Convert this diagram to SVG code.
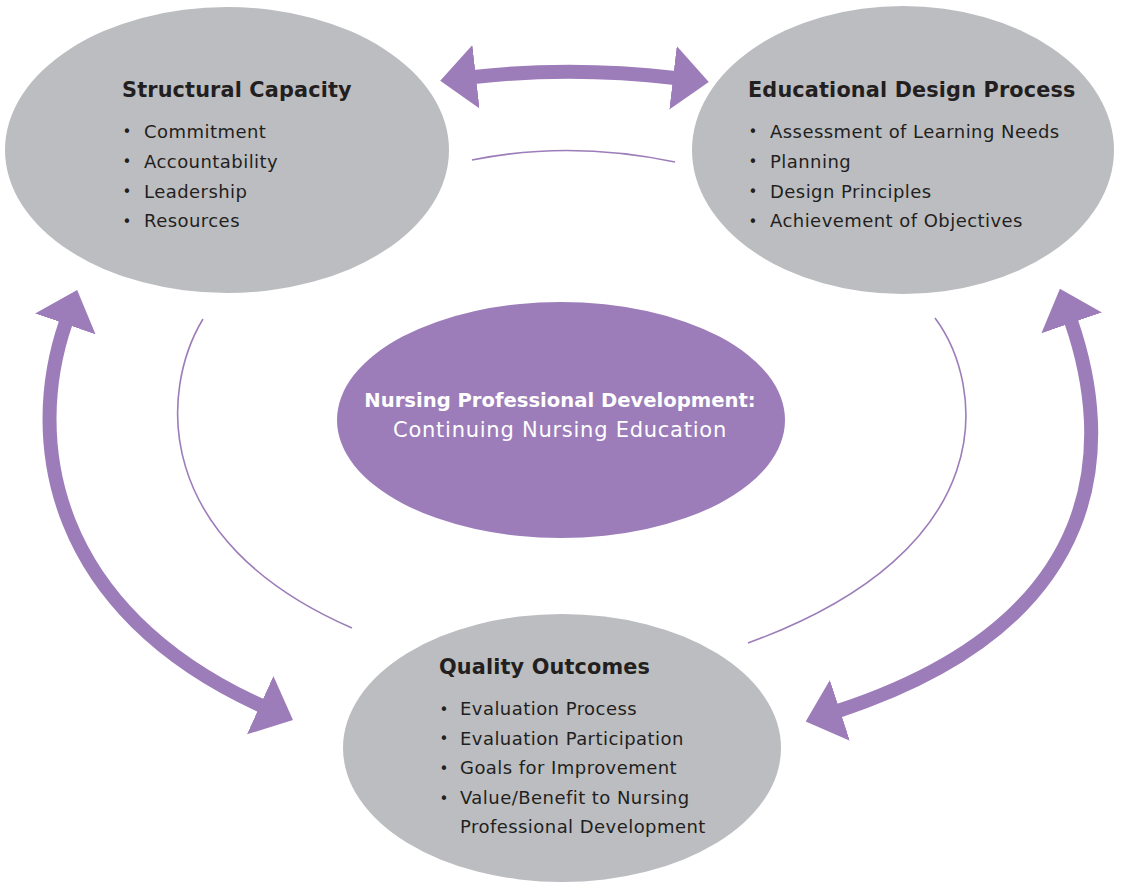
<svg xmlns="http://www.w3.org/2000/svg" width="1124" height="884" viewBox="0 0 1124 884">
<style>
.node{fill:#bcbdc0}
.core{fill:#9c7db9}
.title{font-family:"DejaVu Sans","Liberation Sans",sans-serif;font-weight:bold;font-size:20.8px;fill:#231f20;letter-spacing:0.15px}
.item{font-family:"DejaVu Sans","Liberation Sans",sans-serif;font-size:18px;fill:#231f20;letter-spacing:0.45px}
.dot{font-family:"DejaVu Sans","Liberation Sans",sans-serif;font-size:15px;fill:#231f20;text-anchor:middle}
.ct1{font-family:"DejaVu Sans","Liberation Sans",sans-serif;font-weight:bold;font-size:19.6px;fill:#ffffff;text-anchor:middle}
.ct2{font-family:"DejaVu Sans","Liberation Sans",sans-serif;font-size:21px;fill:#ffffff;text-anchor:middle;letter-spacing:0.75px}
.thick{fill:none;stroke:#9c7db9;stroke-width:14}
.thin{fill:none;stroke:#9c7db9;stroke-width:1.6}
</style>
<defs>
<marker id="ah" markerUnits="userSpaceOnUse" markerWidth="36" markerHeight="64" viewBox="0 0 36 64" refX="2" refY="32" orient="auto-start-reverse">
<path d="M0,0 L36,32 L0,64 z" fill="#9c7db9"/>
</marker>
</defs>
<rect width="1124" height="884" fill="#ffffff"/>
<g id="connectors">
<path class="thick" d="M474,77 Q572,66 675,78" marker-start="url(#ah)" marker-end="url(#ah)"/>
<path class="thick" d="M66,322 C25,440 50,610 262,706" marker-start="url(#ah)" marker-end="url(#ah)"/>
<path class="thick" d="M1071,321 C1112,440 1115,620 838,711" marker-start="url(#ah)" marker-end="url(#ah)"/>
<path class="thin" d="M472,160 Q570,140 675,162"/>
<path class="thin" d="M203,319 C160,390 150,540 352,628"/>
<path class="thin" d="M935,318 C985,385 1005,550 748,643"/>
</g>
<g id="structural-capacity">
<ellipse class="node" cx="227" cy="150" rx="222" ry="143"/>
<text class="title" x="122" y="97">Structural Capacity</text>
<text class="dot" x="127" y="137">•</text><text class="item" x="144" y="137.5">Commitment</text>
<text class="dot" x="127" y="167">•</text><text class="item" x="144" y="167.5">Accountability</text>
<text class="dot" x="127" y="197">•</text><text class="item" x="144" y="197.5">Leadership</text>
<text class="dot" x="127" y="227">•</text><text class="item" x="144" y="227">Resources</text>
</g>
<g id="educational-design-process">
<ellipse class="node" cx="903" cy="150" rx="211" ry="144"/>
<text class="title" x="748" y="97">Educational Design Process</text>
<text class="dot" x="753" y="137">•</text><text class="item" x="770" y="137.5">Assessment of Learning Needs</text>
<text class="dot" x="753" y="167">•</text><text class="item" x="770" y="167.5">Planning</text>
<text class="dot" x="753" y="197">•</text><text class="item" x="770" y="197.5">Design Principles</text>
<text class="dot" x="753" y="227">•</text><text class="item" x="770" y="227">Achievement of Objectives</text>
</g>
<g id="nursing-professional-development">
<ellipse class="core" cx="561" cy="420" rx="224" ry="118"/>
<text class="ct1" x="560" y="407">Nursing Professional Development:</text>
<text class="ct2" x="560" y="437">Continuing Nursing Education</text>
</g>
<g id="quality-outcomes">
<ellipse class="node" cx="562" cy="748" rx="219" ry="134"/>
<text class="title" x="439" y="674">Quality Outcomes</text>
<text class="dot" x="444" y="714.5">•</text><text class="item" x="460" y="715">Evaluation Process</text>
<text class="dot" x="444" y="744">•</text><text class="item" x="460" y="744.5">Evaluation Participation</text>
<text class="dot" x="444" y="774">•</text><text class="item" x="460" y="774">Goals for Improvement</text>
<text class="dot" x="444" y="803.5">•</text><text class="item" x="460" y="804">Value/Benefit to Nursing</text>
<text class="item" x="460" y="833">Professional Development</text>
</g>
</svg>
